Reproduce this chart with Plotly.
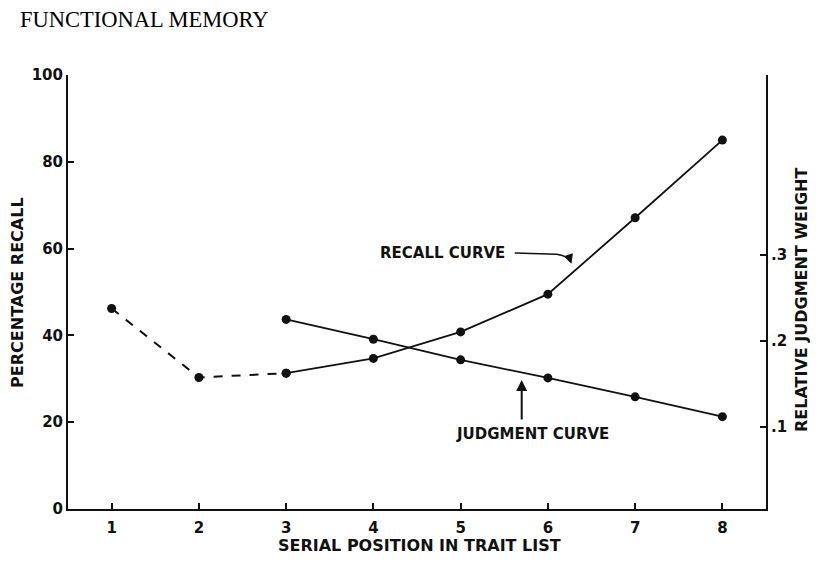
import plotly.graph_objects as go

# ---- data ----
positions = [1, 2, 3, 4, 5, 6, 7, 8]
recall_pct = [46.2, 30.3, 31.3, 34.7, 40.8, 49.5, 67.1, 85.0]
judgment_positions = [3, 4, 5, 6, 7, 8]
judgment_weight = [0.225, 0.202, 0.178, 0.157, 0.135, 0.112]

left_ticks = [0, 20, 40, 60, 80, 100]
left_ticktext = ["0", "20", "40", "60", "80", "100"]
right_ticks = [0.1, 0.2, 0.3]
right_ticktext = [".1", ".2", ".3"]

FONT = "DejaVu Sans"
INK = "#111111"
tickfont = dict(size=15, family=FONT, color=INK, weight="bold")
labfont = dict(size=16, family=FONT, color=INK, weight="bold")

fig = go.Figure()

# dashed part of recall curve (positions 1-3)
fig.add_trace(go.Scatter(
    x=positions[:3], y=recall_pct[:3], mode="lines+markers",
    line=dict(color=INK, width=2, dash="dash"),
    marker=dict(color=INK, size=9), showlegend=False))
# solid recall curve (positions 3-8)
fig.add_trace(go.Scatter(
    x=positions[2:], y=recall_pct[2:], mode="lines+markers",
    line=dict(color=INK, width=1.8),
    marker=dict(color=INK, size=9), showlegend=False))
# judgment curve on right axis
fig.add_trace(go.Scatter(
    x=judgment_positions, y=judgment_weight, mode="lines+markers",
    line=dict(color=INK, width=1.8),
    marker=dict(color=INK, size=9), showlegend=False, yaxis="y2"))

axis_common = dict(
    ticks="inside", ticklen=6, tickwidth=1.5, tickcolor=INK,
    showline=True, linecolor=INK, linewidth=2, showgrid=False, zeroline=False,
    tickfont=tickfont, automargin=False)

# page body has an 8px default margin; size the figure so it fits the window
fig.update_layout(
    width=804, height=547,
    paper_bgcolor="white", plot_bgcolor="white",
    margin=dict(l=60, r=46, t=67, b=46),
    font=dict(family=FONT, color=INK),
    xaxis=dict(range=[0.5, 8.5], tickvals=positions,
               ticktext=[str(p) for p in positions], ticklabelstandoff=4, **axis_common),
    yaxis=dict(range=[0, 100], tickvals=left_ticks, ticktext=left_ticktext, **axis_common),
    yaxis2=dict(overlaying="y", side="right", range=[0.0047, 0.509],
                tickvals=right_ticks, ticktext=right_ticktext, **axis_common),
)

# Title
fig.add_annotation(
    text="FUNCTIONAL MEMORY", xref="paper", yref="paper",
    x=-0.0716, y=1.127, xanchor="left", yanchor="middle", showarrow=False,
    font=dict(family="Liberation Serif", size=22.5, color="#000000"))

# Axis titles
fig.add_annotation(
    text="PERCENTAGE RECALL", xref="paper", yref="paper", x=-0.0716, y=0.498,
    xanchor="center", yanchor="middle",
    textangle=-90, showarrow=False, font=labfont)
fig.add_annotation(
    text="RELATIVE JUDGMENT WEIGHT", xref="paper", yref="paper", x=1.0516, y=0.4816,
    xanchor="center", yanchor="middle",
    textangle=-90, showarrow=False, font=labfont)
fig.add_annotation(
    text="SERIAL POSITION IN TRAIT LIST", xref="paper", yref="paper", x=0.5036, y=-0.084,
    xanchor="center", yanchor="middle",
    showarrow=False, font=labfont)

# Recall curve label with bent arrow
fig.add_annotation(
    text="RECALL CURVE", x=4.79, y=59.0, xref="x", yref="y", showarrow=False,
    xanchor="center", yanchor="middle",
    font=dict(size=15, family=FONT, color=INK, weight="bold"))
fig.add_shape(
    type="path", xref="x", yref="y",
    path="M 5.62,59.0 L 6.10,58.7 Q 6.22,58.4 6.26,57.0",
    line=dict(color=INK, width=1.6))
fig.add_annotation(
    x=6.27, y=56.5, xref="x", yref="y", ax=-3, ay=-9, text="",
    showarrow=True, arrowhead=2, arrowsize=1.2, arrowwidth=1.6, arrowcolor=INK)

# Judgment curve label with vertical arrow
fig.add_annotation(
    text="JUDGMENT CURVE", x=5.82, y=17.3, xref="x", yref="y", showarrow=False,
    xanchor="center", yanchor="middle",
    font=dict(size=15, family=FONT, color=INK, weight="bold"))
fig.add_annotation(
    x=5.70, y=29.7, xref="x", yref="y", ax=0, ay=41, text="",
    showarrow=True, arrowhead=2, arrowsize=1.1, arrowwidth=2, arrowcolor=INK)

fig.write_html("out.html")
